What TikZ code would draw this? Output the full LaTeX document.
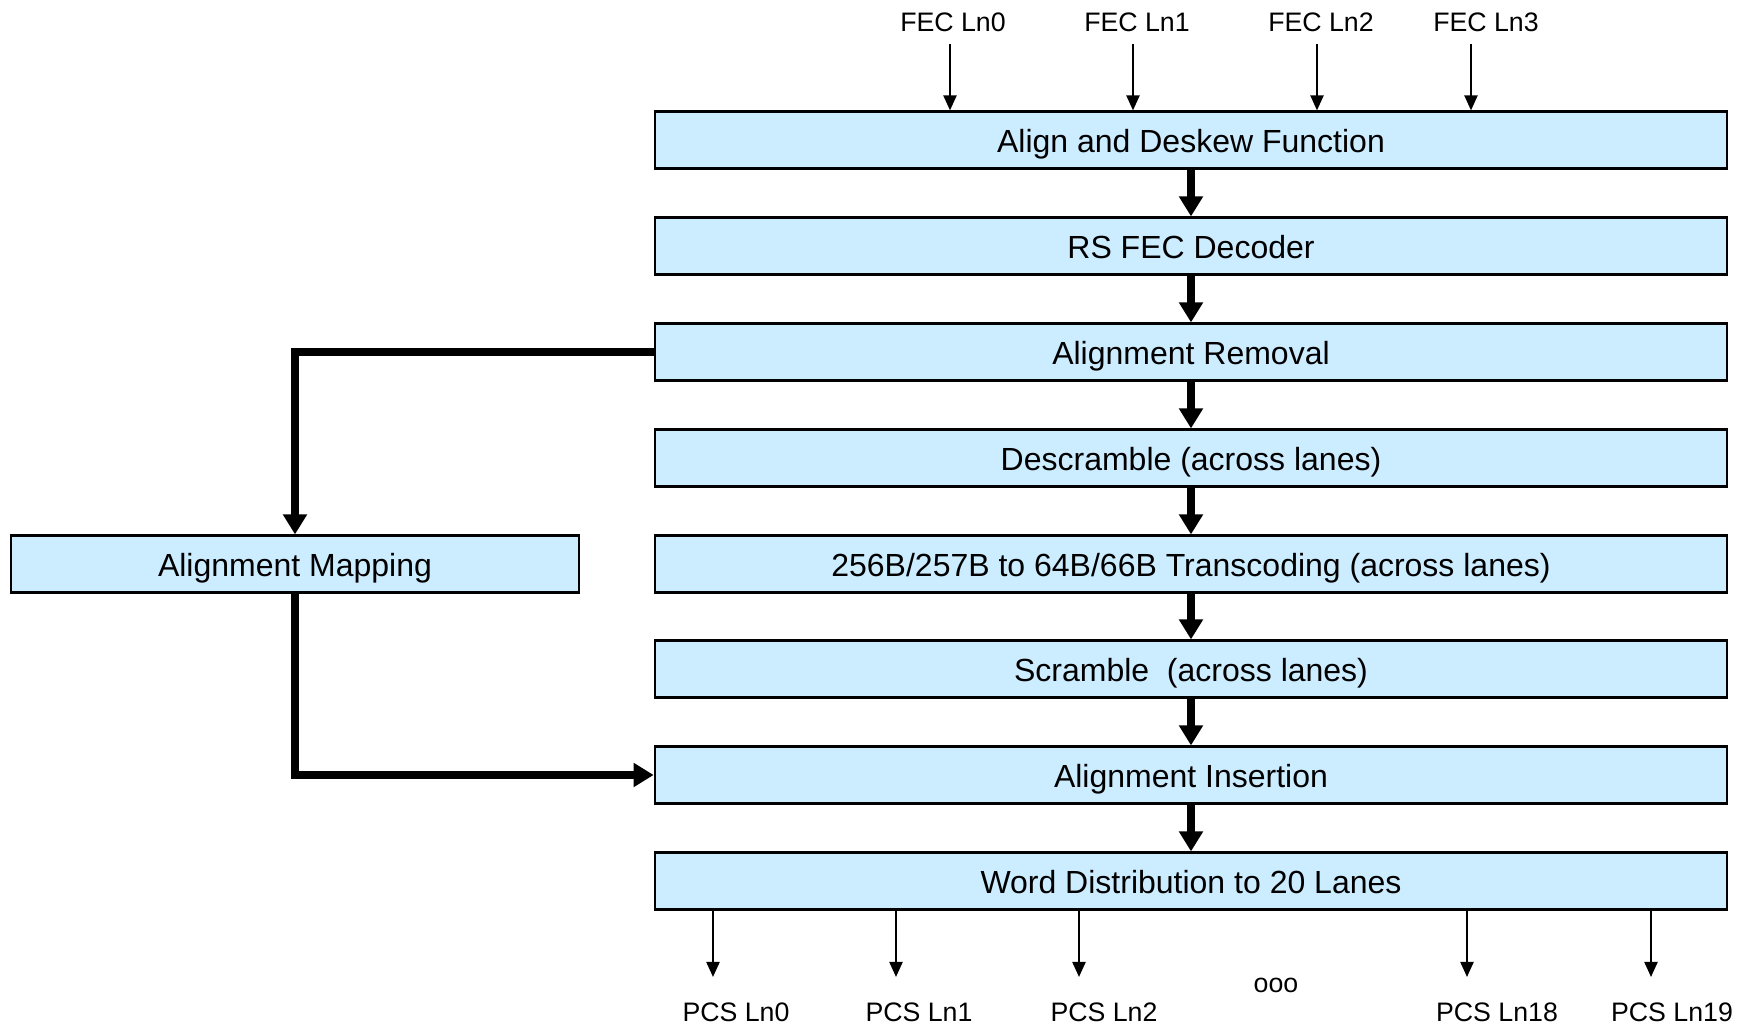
\documentclass[tikz,border=0pt]{standalone}
\usepackage{fontspec}
\setmainfont{Liberation Sans}
\usetikzlibrary{arrows.meta}
\definecolor{boxblue}{RGB}{204,236,255}
\tikzset{
  box/.style={draw, line width=0.6pt, fill=boxblue, minimum height=0.57cm,
    inner sep=0pt, text height=0.72em, text depth=0pt,
    font=\fontsize{9.1}{11}\selectfont},
  lane/.style={-{Triangle[length=0.15cm,width=0.13cm]}, line width=0.6pt},
  flow/.style={-{Triangle[length=0.2cm,width=0.23cm]}, line width=2pt},
  tag/.style={font=\fontsize{7.6}{9}\selectfont}
}
\begin{document}
\begin{tikzpicture}[x=0.01cm,y=-0.01cm]
  \useasboundingbox (0,0) rectangle (1744,1028);
  % main column
  \draw
    (1191,140) node[box, minimum width=10.72cm] (align){Align and Deskew Function}
    (1191,246) node[box, minimum width=10.72cm] (rs){RS FEC Decoder}
    (1191,352) node[box, minimum width=10.72cm] (rem){Alignment Removal}
    (1191,458) node[box, minimum width=10.72cm] (desc){Descramble (across lanes)}
    (1191,564) node[box, minimum width=10.72cm] (trans){256B/257B to 64B/66B Transcoding (across lanes)}
    (1191,669) node[box, minimum width=10.72cm] (scr){Scramble\ \ (across lanes)}
    (1191,775) node[box, minimum width=10.72cm] (ins){Alignment Insertion}
    (1191,881) node[box, minimum width=10.72cm] (dist){Word Distribution to 20 Lanes}
    (295,564) node[box, minimum width=5.67cm] (map){Alignment Mapping};
  % lane labels
  \draw
    (953,22) node[tag] (fec0){FEC Ln0}
    (1137,22) node[tag] (fec1){FEC Ln1}
    (1321,22) node[tag] (fec2){FEC Ln2}
    (1486,22) node[tag] (fec3){FEC Ln3}
    (736,1012) node[tag] (pcs0){PCS Ln0}
    (919,1012) node[tag] (pcs1){PCS Ln1}
    (1104,1012) node[tag] (pcs2){PCS Ln2}
    (1276,985) node[tag] (dots){ooo}
    (1497,1012) node[tag] (pcs18){PCS Ln18}
    (1672,1012) node[tag] (pcs19){PCS Ln19};
  % lane arrow ends
  \coordinate (in0) at (950,44);
  \coordinate (in1) at (1133,44);
  \coordinate (in2) at (1317,44);
  \coordinate (in3) at (1471,44);
  \coordinate (out0) at (713,977);
  \coordinate (out1) at (896,977);
  \coordinate (out2) at (1079,977);
  \coordinate (out18) at (1467,977);
  \coordinate (out19) at (1651,977);
  \begin{scope}[flow]
    \draw (align) -- (rs);
    \draw (rs) -- (rem);
    \draw (rem) -- (desc);
    \draw (desc) -- (trans);
    \draw (trans) -- (scr);
    \draw (scr) -- (ins);
    \draw (ins) -- (dist);
    \draw (rem.west) -| (map.north);
    \draw (map.south) |- (ins.west);
  \end{scope}
  \begin{scope}[lane]
    \draw (in0) -- (in0 |- align.north);
    \draw (in1) -- (in1 |- align.north);
    \draw (in2) -- (in2 |- align.north);
    \draw (in3) -- (in3 |- align.north);
    \draw (out0 |- dist.south) -- (out0);
    \draw (out1 |- dist.south) -- (out1);
    \draw (out2 |- dist.south) -- (out2);
    \draw (out18 |- dist.south) -- (out18);
    \draw (out19 |- dist.south) -- (out19);
  \end{scope}
\end{tikzpicture}
\end{document}
